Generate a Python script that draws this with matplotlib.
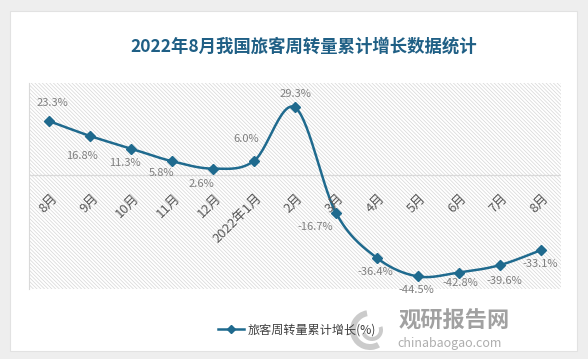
import matplotlib
matplotlib.use('Agg')
import matplotlib.pyplot as plt
from matplotlib.patches import Rectangle, Wedge
import numpy as np

plt.rcParams['font.family'] = ['Noto Sans CJK SC', 'DejaVu Sans']
plt.rcParams['hatch.linewidth'] = 0.5

months = ['8月', '9月', '10月', '11月', '12月', '2022年1月', '2月', '3月',
          '4月', '5月', '6月', '7月', '8月']
growth = [23.3, 16.8, 11.3, 5.8, 2.6, 6.0, 29.3, -16.7, -36.4, -44.5, -42.8, -39.6, -33.1]
labels = ['23.3%', '16.8%', '11.3%', '5.8%', '2.6%', '6.0%', '29.3%', '-16.7%',
          '-36.4%', '-44.5%', '-42.8%', '-39.6%', '-33.1%']
# label offsets in pixels (dx, dy)
offsets = [(3, 18), (-8, -20), (-6, -14), (-11, -12), (-12, -15), (-8, 22), (0, 13),
           (-21, -14), (-1, -14), (-1, -14), (2, -10), (5, -16), (0, -14)]

line_col = '#1f6a8e'
grey = '#7f7f7f'

fig = plt.figure(figsize=(5.88, 3.59), dpi=100, facecolor='#eeeeee')
# white card
fig.patches.append(Rectangle((10 / 588, 1 - 351 / 359), 567 / 588, 340 / 359,
                             transform=fig.transFigure, facecolor='white',
                             edgecolor='#e2e2e2', lw=0.8, zorder=-5))

ax = fig.add_axes([29 / 588, 1 - 289 / 359, 532 / 588, 206 / 359])
ax.set_zorder(2)
ax.set_facecolor('none')
ax.add_patch(Rectangle((0, 0), 1, 1, transform=ax.transAxes, facecolor='white',
                       edgecolor='#d6d6d6', hatch='\\' * 9, lw=0, zorder=0))

x = np.arange(len(growth))
y = np.array(growth)

# smoothed line (Bezier through the points, like the spreadsheet "smooth line")
px = np.concatenate([[x[0]], x, [x[-1]]])
py = np.concatenate([[y[0]], y, [y[-1]]])
t = np.linspace(0, 1, 30)[:, None]
cx, cy = [], []
for i in range(1, len(px) - 2):
    p0 = np.array([px[i], py[i]])
    p3 = np.array([px[i + 1], py[i + 1]])
    c1 = p0 + (np.array([px[i + 1], py[i + 1]]) - np.array([px[i - 1], py[i - 1]])) / 6
    c2 = p3 - (np.array([px[i + 2], py[i + 2]]) - np.array([px[i], py[i]])) / 6
    seg = (1 - t) ** 3 * p0 + 3 * (1 - t) ** 2 * t * c1 + 3 * (1 - t) * t ** 2 * c2 + t ** 3 * p3
    cx.extend(seg[:, 0])
    cy.extend(seg[:, 1])
ax.plot(cx, cy, color=line_col, lw=1.8, zorder=3)
ax.plot(x, y, ls='none', marker='D', ms=5, color=line_col, zorder=4)
ax.plot([], [], color=line_col, lw=1.8, marker='D', ms=4, label='旅客周转量累计增长(%)')

for xi, yi, lab, (dx, dy) in zip(x, y, labels, offsets):
    ax.annotate(lab, (xi, yi), xytext=(dx * 0.72, dy * 0.72), textcoords='offset points',
                ha='center', va='center', fontsize=8, color=grey, zorder=5)

ax.set_xlim(-0.5, len(growth) - 0.5)
ax.set_ylim(-50, 40)
ax.axhline(0, color='#d9d9d9', lw=0.9, zorder=1)
for s in ['top', 'right', 'bottom']:
    ax.spines[s].set_visible(False)
ax.spines['left'].set_color('#d9d9d9')
ax.set_yticks([])
ax.set_xticks([])

for xi, m in zip(x, months):
    ax.annotate(m, (xi, 0), xytext=(1, -12), textcoords='offset points',
                rotation=45, rotation_mode='anchor', ha='right', va='top',
                fontsize=9.5, color='#595959')

fig.text(0.516, 1 - 47 / 359, '2022年8月我国旅客周转量累计增长数据统计', ha='center', va='center',
         fontsize=12.5, fontweight='bold', color='#1f5f85')

fig.legend(loc='center', bbox_to_anchor=(0.505, 1 - 330 / 359), frameon=False,
           fontsize=8.7, labelcolor='#404040', handlelength=2.2, handletextpad=0.3)

# watermark
fig.patches.append(Wedge((370, 359 - 330), 20, 100, 300, width=6, transform=None,
                         facecolor='#b5b5b5', alpha=0.7, zorder=3))
fig.patches.append(Wedge((372, 359 - 330), 11, 200, 20, width=4, transform=None,
                         facecolor='#b5b5b5', alpha=0.7, zorder=3))
fig.text(454 / 588, 1 - 321 / 359, '观研报告网', ha='center', va='center', fontsize=16,
         fontweight='bold', color='#8a8a8a', alpha=0.8, zorder=3)
fig.text(450 / 588, 1 - 344 / 359, 'chinabaogao.com', ha='center', va='center', fontsize=9,
         color='#9a9a9a', alpha=0.8, zorder=3)

fig.savefig('out.png', dpi=100, facecolor=fig.get_facecolor())
